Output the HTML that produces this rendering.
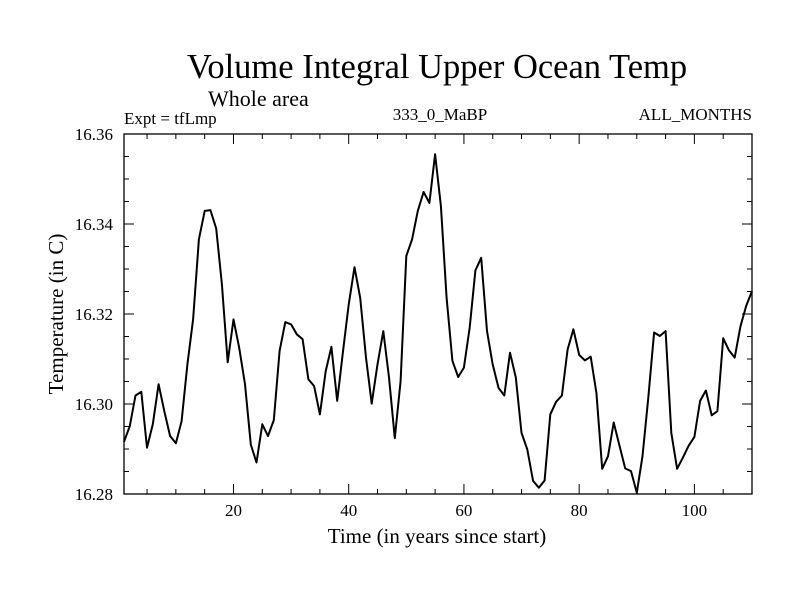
<!DOCTYPE html>
<html><head><meta charset="utf-8">
<style>
body{margin:0;background:#fff;}
svg text{font-family:"Liberation Serif",serif;fill:#000;}
</style></head>
<body>
<svg id="chart" width="800" height="600" xmlns="http://www.w3.org/2000/svg">
<rect width="800" height="600" fill="#fff"/>
<text x="437" y="78" font-size="34.5" text-anchor="middle">Volume Integral Upper Ocean Temp</text>
<text x="208" y="106" font-size="22">Whole area</text>
<text x="124" y="124" font-size="17">Expt = tfLmp</text>
<text x="440" y="120" font-size="17" text-anchor="middle">333_0_MaBP</text>
<text x="752" y="120" font-size="17" text-anchor="end">ALL_MONTHS</text>
<text transform="translate(63,314) rotate(-90)" font-size="21" text-anchor="middle">Temperature (in C)</text>
<text x="437" y="543" font-size="21" text-anchor="middle">Time (in years since start)</text>
<g id="axes"></g>
<g id="series"></g>
<rect x="124" y="134" width="628" height="360" fill="none" stroke="#000" stroke-width="1.3"/>
</svg>
<script>
const startYear = 1;
const temps = [16.2916,16.2951,16.3019,16.3027,16.2903,16.2955,16.3044,16.2984,16.2929,16.2913,
16.2962,16.3088,16.3188,16.3366,16.3429,16.3431,16.3390,16.3266,16.3093,16.3188,
16.3125,16.3044,16.2910,16.2870,16.2955,16.2929,16.2964,16.3118,16.3182,16.3177,
16.3155,16.3144,16.3055,16.3040,16.2977,16.3073,16.3127,16.3007,16.3115,16.3221,
16.3304,16.3236,16.3103,16.3001,16.3088,16.3162,16.3059,16.2924,16.3051,16.3329,
16.3366,16.3429,16.3471,16.3447,16.3555,16.3440,16.3236,16.3096,16.3060,16.3081,
16.3170,16.3297,16.3325,16.3162,16.3088,16.3036,16.3019,16.3114,16.3059,16.2936,
16.2899,16.2829,16.2814,16.2830,16.2977,16.3005,16.3019,16.3121,16.3166,16.3109,
16.3097,16.3105,16.3025,16.2856,16.2884,16.2959,16.2907,16.2857,16.2851,16.2803,
16.2884,16.3014,16.3159,16.3151,16.3162,16.2936,16.2856,16.2881,16.2907,16.2927,
16.3007,16.3030,16.2975,16.2984,16.3146,16.3119,16.3103,16.3173,16.3218,16.3251];
const xTickLabels = [20,40,60,80,100];
const yTickLabels = ["16.28","16.30","16.32","16.34","16.36"];
const xMin = 1, xMax = 110, yMin = 16.28, yMax = 16.36;

const L=124,R=752,T=134,B=494;
const xs = v => L + (v - xMin) / (xMax - xMin) * (R - L);
const ys = v => B - (v - yMin) / (yMax - yMin) * (B - T);
const NS="http://www.w3.org/2000/svg";
const axes=document.getElementById('axes');
function line(x1,y1,x2,y2,name){
  const l=document.createElementNS(NS,'line');
  l.setAttribute('x1',x1);l.setAttribute('y1',y1);l.setAttribute('x2',x2);l.setAttribute('y2',y2);
  l.setAttribute('stroke','#000');l.setAttribute('stroke-width','1');
  
  
  axes.appendChild(l);
}
for(let v=5; v<=110; v+=5){
  const x=xs(v); if(x<L||x>R) continue;
  const len = v%20===0 ? 10 : 5;
  line(x,B,x,B-len,'x-tick');
  line(x,T,x,T+len,'x-tick-top');
}
xTickLabels.forEach(v=>{
  const t=document.createElementNS(NS,'text');
  t.setAttribute('x',xs(v));t.setAttribute('y',B+22);t.setAttribute('font-size','17');t.setAttribute('text-anchor','middle');
  t.textContent=v;
  
  
  axes.appendChild(t);
});
for(let i=0;i<=16;i++){
  const v=yMin+i*0.005, y=ys(v);
  const len = i%4===0 ? 10 : 5;
  line(L,y,L+len,y,'y-tick');
  line(R,y,R-len,y,'y-tick-right');
}
yTickLabels.forEach(s=>{
  const t=document.createElementNS(NS,'text');
  t.setAttribute('x',113);t.setAttribute('y',ys(parseFloat(s))+6);t.setAttribute('font-size','17');t.setAttribute('text-anchor','end');
  t.textContent=s;
  
  
  axes.appendChild(t);
});
const pts = temps.map((v,i)=>xs(startYear+i).toFixed(1)+','+ys(v).toFixed(1)).join(' ');
const pl=document.createElementNS(NS,'polyline');
pl.setAttribute('points',pts);pl.setAttribute('fill','none');pl.setAttribute('stroke','#000');pl.setAttribute('stroke-width','2');
pl.setAttribute('stroke-linejoin','round');


document.getElementById('series').appendChild(pl);
</script>
</body></html>
